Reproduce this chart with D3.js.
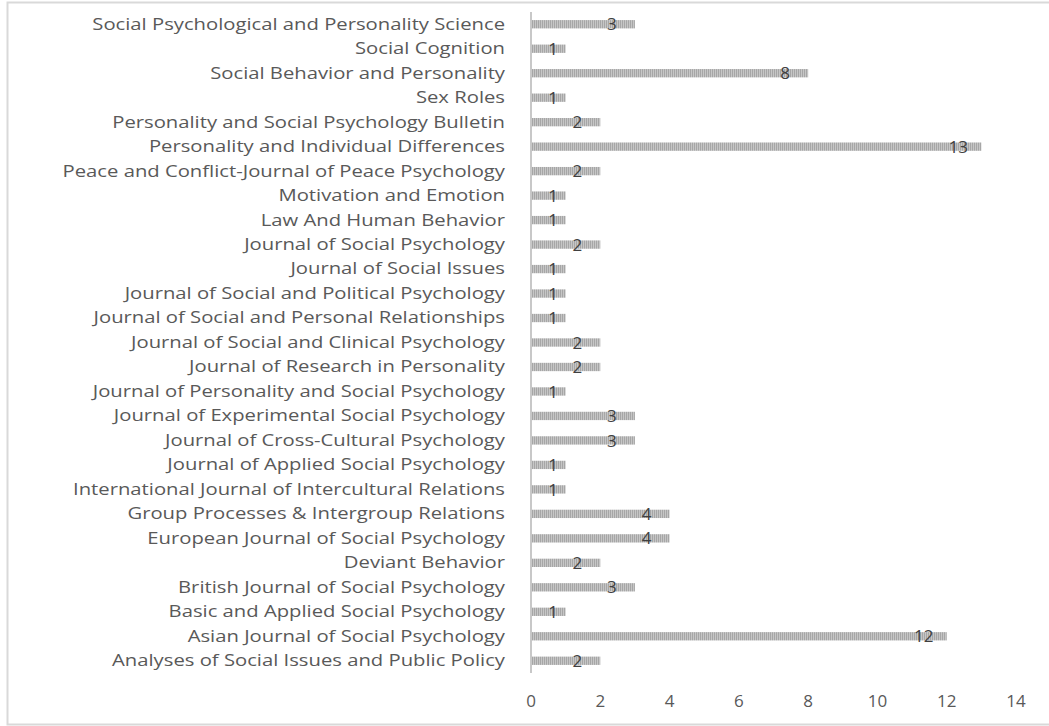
<!DOCTYPE html>
<html>
<head>
<meta charset="utf-8">
<script src="https://cdn.jsdelivr.net/npm/d3@7"></script>
<style>
  html, body { margin: 0; padding: 0; background: #fff; }
  svg { display: block; font-family: "Open Sans", Lato, sans-serif; }
</style>
</head>
<body>
<svg id="chart" width="1049" height="726"></svg>
<script>
'use strict';

// journals, top to bottom as drawn
var journals = [
    "Social Psychological and Personality Science",
    "Social Cognition",
    "Social Behavior and Personality",
    "Sex Roles",
    "Personality and Social Psychology Bulletin",
    "Personality and Individual Differences",
    "Peace and Conflict-Journal of Peace Psychology",
    "Motivation and Emotion",
    "Law And Human Behavior",
    "Journal of Social Psychology",
    "Journal of Social Issues",
    "Journal of Social and Political Psychology",
    "Journal of Social and Personal Relationships",
    "Journal of Social and Clinical Psychology",
    "Journal of Research in Personality",
    "Journal of Personality and Social Psychology",
    "Journal of Experimental Social Psychology",
    "Journal of Cross-Cultural Psychology",
    "Journal of Applied Social Psychology",
    "International Journal of Intercultural Relations",
    "Group Processes & Intergroup Relations",
    "European Journal of Social Psychology",
    "Deviant Behavior",
    "British Journal of Social Psychology",
    "Basic and Applied Social Psychology",
    "Asian Journal of Social Psychology",
    "Analyses of Social Issues and Public Policy"
];
var counts = [3, 1, 8, 1, 2, 13, 2, 1, 1, 2, 1, 1, 1, 2, 2, 1, 3, 3, 1, 1, 4, 4, 2, 3, 1, 12, 2];
var xTicks = [0, 2, 4, 6, 8, 10, 12, 14];

var svg = d3.select("#chart");
var plot = { left: 531, right: 1016, top: 12, bottom: 673 };

// chart frame
svg.append("rect")
    .attr("x", 7.5).attr("y", 2.5)
    .attr("width", 1060).attr("height", 722)
    .attr("fill", "none")
    .attr("stroke", "#d9d9d9")
    .attr("stroke-width", 2);

// narrow vertical hatch
var defs = svg.append("defs");
var pat = defs.append("pattern")
    .attr("id", "hatch")
    .attr("patternUnits", "userSpaceOnUse")
    .attr("width", 2).attr("height", 4);
pat.append("rect").attr("width", 2).attr("height", 4).attr("fill", "#c6c6c6");
pat.append("rect").attr("width", 1).attr("height", 4).attr("fill", "#a6a6a6");

var x = d3.scaleLinear().domain([0, 14]).range([plot.left, plot.right]);
var y = d3.scaleBand().domain(journals).range([plot.top, plot.bottom]).paddingInner(0.66).paddingOuter(0.33);

// bars
svg.append("g").selectAll("rect")
    .data(journals)
    .enter()
    .append("rect")
    .attr("x", x(0))
    .attr("y", function(d) { return y(d); })
    .attr("width", function(d, i) { return x(counts[i]) - x(0); })
    .attr("height", y.bandwidth())
    .attr("fill", "url(#hatch)");

// category axis line
svg.append("line")
    .attr("x1", x(0)).attr("x2", x(0))
    .attr("y1", plot.top).attr("y2", plot.bottom)
    .attr("stroke", "#c8c8c8")
    .attr("stroke-width", 2);

// category labels: a bit short and wide, like the original
var catG = svg.append("g");
var cats = catG.selectAll("text")
    .data(journals)
    .enter()
    .append("text")
    .attr("x", 0)
    .attr("y", function(d) { return y(d) + y.bandwidth() / 2; })
    .attr("dy", "0.35em")
    .attr("text-anchor", "end")
    .attr("fill", "#595959")
    .style("font-size", "15.5px")
    .text(function(d) { return d; });
var widest = d3.max(cats.nodes(), function(n) { return n.getComputedTextLength(); });
catG.attr("transform", "translate(505,0) scale(" + (443 / widest) + ",1)");

// value labels at the bar ends
svg.append("g").selectAll("text")
    .data(journals)
    .enter()
    .append("text")
    .attr("x", function(d, i) { return Math.max(x(counts[i]) - 23, x(0) + 22); })
    .attr("y", function(d) { return y(d) + y.bandwidth() / 2; })
    .attr("dy", "0.36em")
    .attr("text-anchor", "middle")
    .attr("fill", "#404040")
    .style("font-size", "17px")
    .text(function(d, i) { return counts[i]; });

// value axis tick labels
svg.append("g").selectAll("text")
    .data(xTicks)
    .enter()
    .append("text")
    .attr("x", function(d) { return x(d); })
    .attr("y", 701)
    .attr("dy", "0.35em")
    .attr("text-anchor", "middle")
    .attr("fill", "#595959")
    .style("font-size", "17px")
    .text(function(d) { return d; });
</script>
</body>
</html>
